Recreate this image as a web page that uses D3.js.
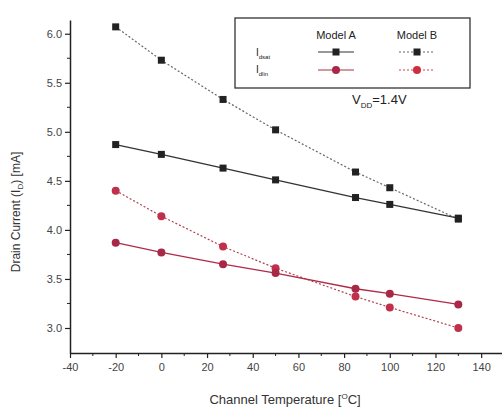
<!DOCTYPE html>
<html><head><meta charset="utf-8">
<script src="https://cdn.jsdelivr.net/npm/d3@7"></script>
<style>body{margin:0;background:#fff}svg{display:block}text{font-family:Arial,"Liberation Sans",sans-serif}</style>
</head><body><svg id="c" width="502" height="412"></svg>
<script>
const temps = [-20, 0, 27, 50, 85, 100, 130];
const idsatA = [4.87, 4.77, 4.63, 4.51, 4.33, 4.26, 4.12];
const idsatB = [6.07, 5.73, 5.33, 5.02, 4.59, 4.43, 4.11];
const idlinA = [3.87, 3.77, 3.65, 3.56, 3.40, 3.35, 3.24];
const idlinB = [4.40, 4.14, 3.83, 3.61, 3.32, 3.21, 3.00];
const xTicks = [-40, -20, 0, 20, 40, 60, 80, 100, 120, 140];
const yTicks = [3.0, 3.5, 4.0, 4.5, 5.0, 5.5, 6.0];

const svg = d3.select("#c");
const x = d3.scaleLinear().domain([-40, 150]).range([70, 504]);
const y = d3.scaleLinear().domain([2.745, 6.14]).range([353, 20]);

// axes
const xAxis = d3.axisBottom(x).tickValues(xTicks).tickFormat(d => String(d)).tickSize(5).tickSizeOuter(0);
const gx = svg.append("g").attr("transform", "translate(0,353)").call(xAxis);
gx.select(".domain").attr("stroke", "#222").attr("stroke-width", 1.5);
gx.selectAll(".tick line").attr("stroke", "#222").attr("stroke-width", 1.2);
gx.selectAll(".tick text").attr("font-size", 11).attr("fill", "#444").attr("y", 10);
svg.append("g").selectAll("line").data(d3.range(-30, 150, 20)).join("line")
  .attr("x1", d => x(d)).attr("x2", d => x(d)).attr("y1", 353).attr("y2", 356)
  .attr("stroke", "#222").attr("stroke-width", 1);

const yAxis = d3.axisLeft(y).tickValues(yTicks).tickFormat(d3.format(".1f")).tickSize(5).tickSizeOuter(0);
const gy = svg.append("g").attr("transform", "translate(70,0)").call(yAxis);
gy.select(".domain").attr("stroke", "#222").attr("stroke-width", 1.5);
gy.selectAll(".tick line").attr("stroke", "#222").attr("stroke-width", 1.2);
gy.selectAll(".tick text").attr("font-size", 11).attr("fill", "#444").attr("x", -8);
svg.append("g").selectAll("line").data(d3.range(3.25, 6.2, 0.5)).join("line")
  .attr("x1", 67).attr("x2", 70).attr("y1", d => y(d)).attr("y2", d => y(d))
  .attr("stroke", "#222").attr("stroke-width", 1);

// series
const line = d3.line().x(d => x(d[0])).y(d => y(d[1]));
const series = [
  {vals: idsatB, stroke: "#666", dash: "2,2", width: 1.2, shape: "sq", fill: "#222"},
  {vals: idsatA, stroke: "#333", dash: null, width: 1.3, shape: "sq", fill: "#222"},
  {vals: idlinB, stroke: "#b04050", dash: "2,2", width: 1.2, shape: "ci", fill: "#c0304a"},
  {vals: idlinA, stroke: "#b02a48", dash: null, width: 1.3, shape: "ci", fill: "#a82848"}
];
series.forEach(s => {
  const pts = temps.map((t, i) => [t, s.vals[i]]);
  svg.append("path").datum(pts).attr("d", line).attr("fill", "none")
    .attr("stroke", s.stroke).attr("stroke-width", s.width).attr("stroke-dasharray", s.dash);
  const g = svg.append("g");
  if (s.shape === "sq") {
    g.selectAll("rect").data(pts).join("rect")
      .attr("x", d => x(d[0]) - 3.5).attr("y", d => y(d[1]) - 3.5).attr("width", 7).attr("height", 7)
      .attr("fill", s.fill);
  } else {
    g.selectAll("circle").data(pts).join("circle")
      .attr("cx", d => x(d[0])).attr("cy", d => y(d[1])).attr("r", 4).attr("fill", s.fill);
  }
});

// legend
svg.append("rect").attr("x", 235).attr("y", 18).attr("width", 235).attr("height", 70)
  .attr("fill", "#fff").attr("stroke", "#333").attr("stroke-width", 1.3);
svg.append("text").attr("x", 336).attr("y", 39).attr("text-anchor", "middle").attr("font-size", 11).attr("fill", "#222").text("Model A");
svg.append("text").attr("x", 417).attr("y", 39).attr("text-anchor", "middle").attr("font-size", 11).attr("fill", "#222").text("Model B");
const lt1 = svg.append("text").attr("x", 256).attr("y", 56).attr("font-size", 10).attr("fill", "#222");
lt1.append("tspan").text("I");
lt1.append("tspan").attr("font-size", 6).attr("dy", 3).text("dsat");
const lt2 = svg.append("text").attr("x", 256).attr("y", 73).attr("font-size", 10).attr("fill", "#222");
lt2.append("tspan").text("I");
lt2.append("tspan").attr("font-size", 6).attr("dy", 3).text("dlin");
[[336, 52, "sq", "#333", null, "#222"], [417, 52, "sq", "#666", "2,2", "#222"],
 [336, 70, "ci", "#b02a48", null, "#a82848"], [417, 70, "ci", "#d04050", "2,2", "#cc3040"]].forEach(l => {
  svg.append("line").attr("x1", l[0] - 18).attr("x2", l[0] + 18).attr("y1", l[1]).attr("y2", l[1])
    .attr("stroke", l[3]).attr("stroke-width", 1.2).attr("stroke-dasharray", l[4]);
  if (l[2] === "sq") svg.append("rect").attr("x", l[0] - 3.5).attr("y", l[1] - 3.5).attr("width", 7).attr("height", 7).attr("fill", l[5]);
  else svg.append("circle").attr("cx", l[0]).attr("cy", l[1]).attr("r", 4).attr("fill", l[5]);
});

// VDD annotation
const vt = svg.append("text").attr("x", 352).attr("y", 104).attr("font-size", 13).attr("fill", "#222");
vt.append("tspan").text("V");
vt.append("tspan").attr("font-size", 8).attr("dy", 4).text("DD");
vt.append("tspan").attr("dy", -4).text("=1.4V");

// axis titles
const yt = svg.append("text").attr("transform", "translate(20,212) rotate(-90)").attr("text-anchor", "middle")
  .attr("font-size", 12).attr("fill", "#333");
yt.append("tspan").text("Drain Current (I");
yt.append("tspan").attr("font-size", 8).attr("dy", 3).text("D");
yt.append("tspan").attr("dy", -3).text(") [mA]");
const xt = svg.append("text").attr("x", 285).attr("y", 404).attr("text-anchor", "middle").attr("font-size", 13).attr("fill", "#333");
xt.append("tspan").text("Channel Temperature [");
xt.append("tspan").attr("font-size", 8).attr("dy", -5).text("O");
xt.append("tspan").attr("dy", 5).text("C]");
</script></body></html>
